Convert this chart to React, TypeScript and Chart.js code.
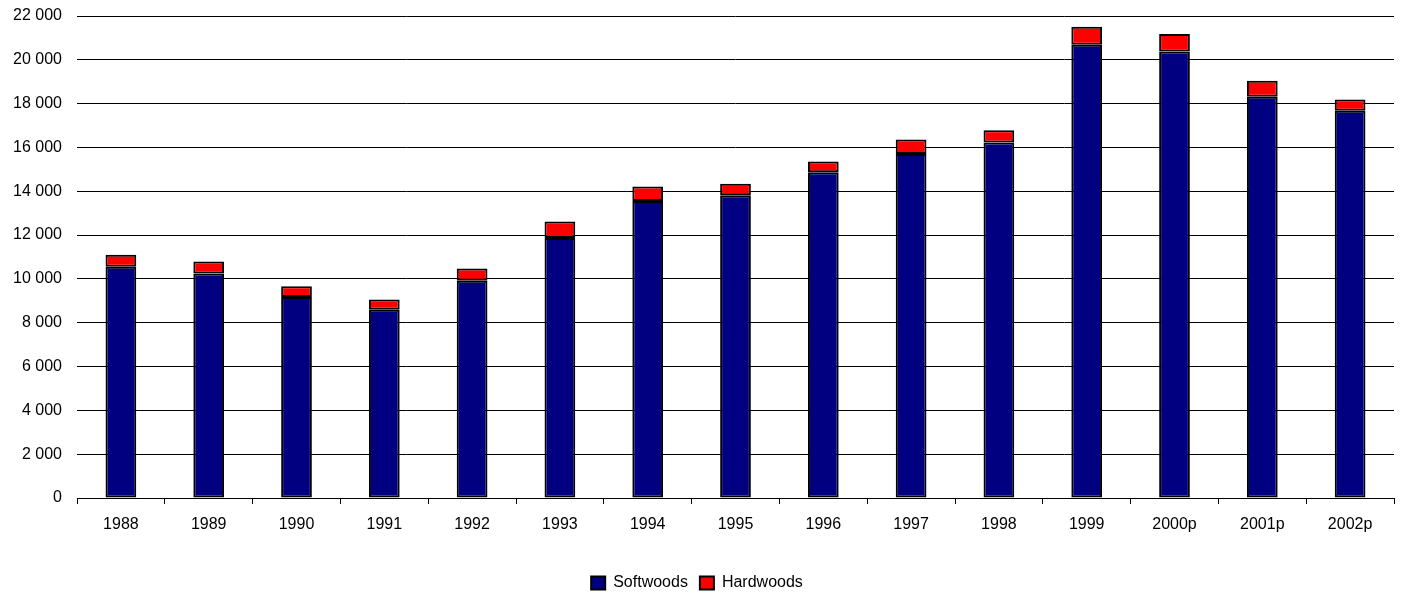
import React, { useEffect, useRef } from "react";
import { Chart, registerables } from "chart.js";

Chart.register(...registerables);

const categories = ["1988", "1989", "1990", "1991", "1992", "1993", "1994", "1995", "1996", "1997", "1998", "1999", "2000p", "2001p", "2002p"];
const softwoods = [10550, 10250, 9170, 8590, 9920, 11870, 13560, 13820, 14870, 15700, 16230, 20690, 20380, 18310, 17670];
const hardwoods = [550, 550, 500, 470, 560, 750, 660, 520, 490, 660, 550, 820, 800, 730, 520];
const yTicks = [0, 2000, 4000, 6000, 8000, 10000, 12000, 14000, 16000, 18000, 20000, 22000];

const FONT = "'Liberation Sans', Arial, sans-serif";

function fmt(v: number): string {
  return String(v).replace(/\B(?=(\d{3})+(?!\d))/g, " ");
}

export default function App() {
  const ref = useRef<HTMLCanvasElement | null>(null);
  useEffect(() => {
    if (!ref.current) return;
    const chart = new Chart(ref.current, {
      type: "bar",
      data: {
        labels: categories,
        datasets: [
          {
            label: "Softwoods",
            data: softwoods,
            backgroundColor: "#000080",
            borderColor: "#000000",
            borderWidth: 2,
            borderSkipped: false,
            barPercentage: 0.35,
            categoryPercentage: 1,
          },
          {
            label: "Hardwoods",
            data: hardwoods,
            backgroundColor: "#FF0000",
            borderColor: "#000000",
            borderWidth: 2,
            borderSkipped: false,
            barPercentage: 0.35,
            categoryPercentage: 1,
          },
        ],
      },
      options: {
        animation: false,
        responsive: false,
        maintainAspectRatio: false,
        layout: { padding: { top: 16, right: 8, left: 0, bottom: -5 } },
        plugins: {
          tooltip: { enabled: false },
          legend: {
            position: "bottom",
            labels: {
              boxWidth: 14,
              boxHeight: 13,
              padding: 12,
              color: "#000",
              font: { family: FONT, size: 16 },
            },
          },
        },
        scales: {
          x: {
            stacked: true,
            grid: {
              offset: true,
              drawOnChartArea: false,
              drawTicks: true,
              tickLength: 6,
              color: "#000",
            },
            border: { display: true, color: "#000", width: 1 },
            ticks: { color: "#000", font: { family: FONT, size: 16 }, padding: 11, maxRotation: 0 },
            afterFit: (s: any) => {
              s.height = 65;
              s.paddingLeft = 0;
              s.paddingRight = 0;
            },
          },
          y: {
            stacked: true,
            min: 0,
            max: 22000,
            afterBuildTicks: (s: any) => {
              s.ticks = yTicks.map((v) => ({ value: v }));
            },
            grid: { color: "#000", lineWidth: 1, drawTicks: false },
            border: { display: false },
            ticks: {
              color: "#000",
              font: { family: FONT, size: 16 },
              padding: 15,
              callback: (v: any) => fmt(Number(v)),
            },
            afterFit: (s: any) => {
              s.width = 77;
              s.paddingTop = 0;
              s.paddingBottom = 0;
            },
          },
        },
      },
    });
    return () => chart.destroy();
  }, []);
  return (
    <div style={{ position: "fixed", left: 0, top: 0, width: 1402, height: 596, background: "#fff" }}>
      <canvas ref={ref} width={1402} height={596} style={{ width: 1402, height: 596, display: "block" }} />
    </div>
  );
}
